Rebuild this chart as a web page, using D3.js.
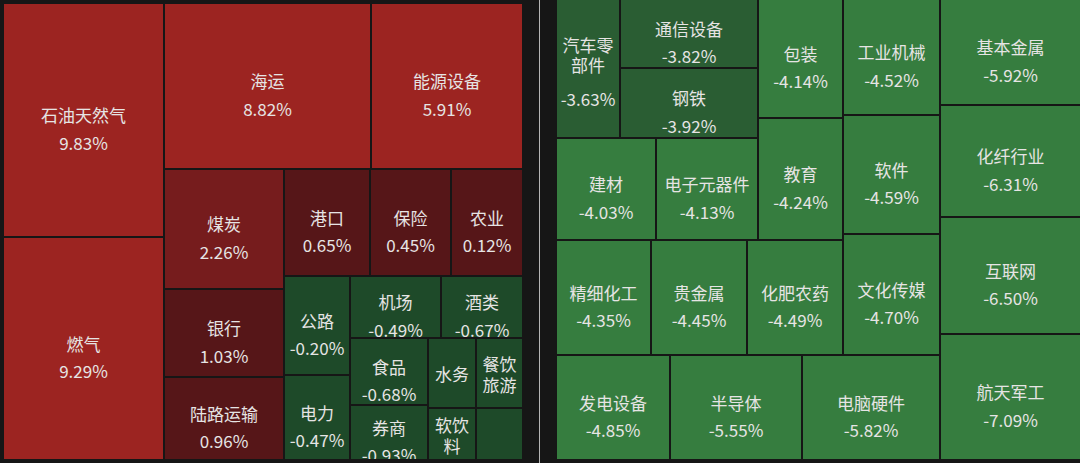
<!DOCTYPE html>
<html><head><meta charset="utf-8">
<script src="https://cdn.jsdelivr.net/npm/d3@7"></script>
<style>html,body{margin:0;padding:0;background:#161616;overflow:hidden}</style>
</head><body><svg id="c" width="1080" height="463"></svg>
<script>
// ---- Left panel data ----
const leftNames = ["石油天然气","燃气","海运","能源设备","煤炭","银行","陆路运输","港口","保险","农业",
  "公路","电力","机场","酒类","食品","券商","水务","软饮料","餐饮旅游",""];
const leftPct = [9.83,9.29,8.82,5.91,2.26,1.03,0.96,0.65,0.45,0.12,
  -0.20,-0.47,-0.49,-0.67,-0.68,-0.93,null,null,null,null];
const leftWeights = [37674,35903,34362,25232,14400,10560,9960,9202,8667,7704,
  6534,5610,5642,5084,5226,4290,3360,2496,3290,2444];
// nesting: "d" = side by side, "s" = stacked
const leftLayout = ["d", ["s",0,1], ["s", ["d",2,3], ["d", ["s",4,5,6], ["s", ["d",7,8,9],
  ["d", ["s",10,11], ["s", ["d",12,13], ["d", ["s",14,15], ["s",16,17], ["s",18,19]]]]]]]];

// ---- Right panel data ----
const rightNames = ["汽车零部件","通信设备","钢铁","建材","电子元器件","包装","教育","精细化工","贵金属","化肥农药",
  "工业机械","软件","文化传媒","发电设备","半导体","电脑硬件","基本金属","化纤行业","互联网","航天军工"];
const rightPct = [-3.63,-3.82,-3.92,-4.03,-4.13,-4.14,-4.24,-4.35,-4.45,-4.49,
  -4.52,-4.59,-4.70,-4.85,-5.55,-5.82,-5.92,-6.31,-6.50,-7.09];
const rightWeights = [8896,9522,9660,10200,10404,10115,10370,10925,11040,11040,
  11252,11543,11737,11970,13860,14490,14946,15792,16497,17766];
const rightLayout = ["d",
  ["s",
    ["d",
      ["s",
        ["d",
          ["s", ["d",0,["s",1,2]], ["d",3,4]],
          ["s",5,6]],
        ["d",7,8,9]],
      ["s",10,11,12]],
    ["d",13,14,15]],
  ["s",16,17,18,19]];

const color = d3.scaleThreshold()
  .domain([-4, -1, 0, 2, 5])
  .range(["#367d3f","#2a5d33","#1e4a29","#561618","#761c1d","#9c2421"]);

const svg = d3.select("#c");
const FS = 17;

function build(spec, names, pct, weights){
  if (typeof spec === "number") return {name:names[spec], pct:pct[spec], w:weights[spec], leaf:true, id:spec};
  return {dir:spec[0], children: spec.slice(1).map(s => build(s, names, pct, weights))};
}

function tile(node, x0, y0, x1, y1){
  (node.data.dir === "d" ? d3.treemapDice : d3.treemapSlice)(node, x0, y0, x1, y1);
}

let clipId = 0;
function drawPanel(spec, names, pct, weights, ox, oy, W, H){
  const root = d3.hierarchy(build(spec, names, pct, weights)).sum(d => d.leaf ? d.w : 0);
  d3.treemap().tile(tile).size([W, H]).paddingInner(2)(root);
  const g = svg.append("g").attr("transform", `translate(${ox},${oy})`);
  const leaves = g.selectAll("g.leaf").data(root.leaves()).join("g").attr("class","leaf");
  leaves.append("clipPath").attr("id", d => (d.cid = "clip" + (clipId++)))
    .append("rect").attr("x", d=>d.x0).attr("y", d=>d.y0)
    .attr("width", d=>d.x1-d.x0).attr("height", d=>d.y1-d.y0);
  leaves.append("rect").attr("x", d=>d.x0).attr("y", d=>d.y0)
    .attr("width", d=>d.x1-d.x0).attr("height", d=>d.y1-d.y0)
    .attr("fill", d => d.data.pct == null ? "#1e4a29" : color(d.data.pct));
  leaves.each(function(d){
    const w = d.x1 - d.x0, h = d.y1 - d.y0;
    const cx = (d.x0 + d.x1)/2, cy = (d.y0 + d.y1)/2;
    const name = d.data.name;
    if (!name) return;
    const per = Math.max(1, Math.floor((w - 6) / FS));
    const chars = Array.from(name);
    const lines = [];
    for (let i = 0; i < chars.length; i += per) lines.push(chars.slice(i, i+per).join(""));
    const tg = d3.select(this).append("g").attr("clip-path", `url(#${d.cid})`)
      .attr("fill", "#e6e4e4").attr("font-size", FS)
      .attr("font-family", "'Noto Sans CJK SC','Noto Sans',sans-serif")
      .attr("text-anchor", "middle");
    const pctStr = d.data.pct == null ? null : d.data.pct.toFixed(2) + "%";
    let showPct = false;
    if (pctStr) {
      const t = tg.append("text").text(pctStr);
      const tw = t.node().getComputedTextLength();
      t.remove();
      showPct = tw <= w - 4 && h >= 45;
    }
    const n = lines.length;
    const nameText = tg.append("text").attr("dominant-baseline","central");
    if (showPct) {
      lines.forEach((l, i) => nameText.append("tspan").attr("x", cx)
        .attr("y", cy - 6 - (n-1)*19 + i*20).text(l));
      tg.append("text").attr("x", cx).attr("y", cy + 22 + (n-1)*8)
        .attr("dominant-baseline","central").text(pctStr);
    } else {
      lines.forEach((l, i) => nameText.append("tspan").attr("x", cx)
        .attr("y", cy + (i - (n-1)/2)*21).text(l));
    }
  });
}

drawPanel(leftLayout, leftNames, leftPct, leftWeights, 4, 4, 518, 455);
drawPanel(rightLayout, rightNames, rightPct, rightWeights, 557, 0, 523, 459);

svg.append("line").attr("x1", 539.5).attr("x2", 539.5).attr("y1", 0).attr("y2", 463)
  .attr("stroke", "#b5b5b5").attr("stroke-width", 1);
</script>
</body></html>
